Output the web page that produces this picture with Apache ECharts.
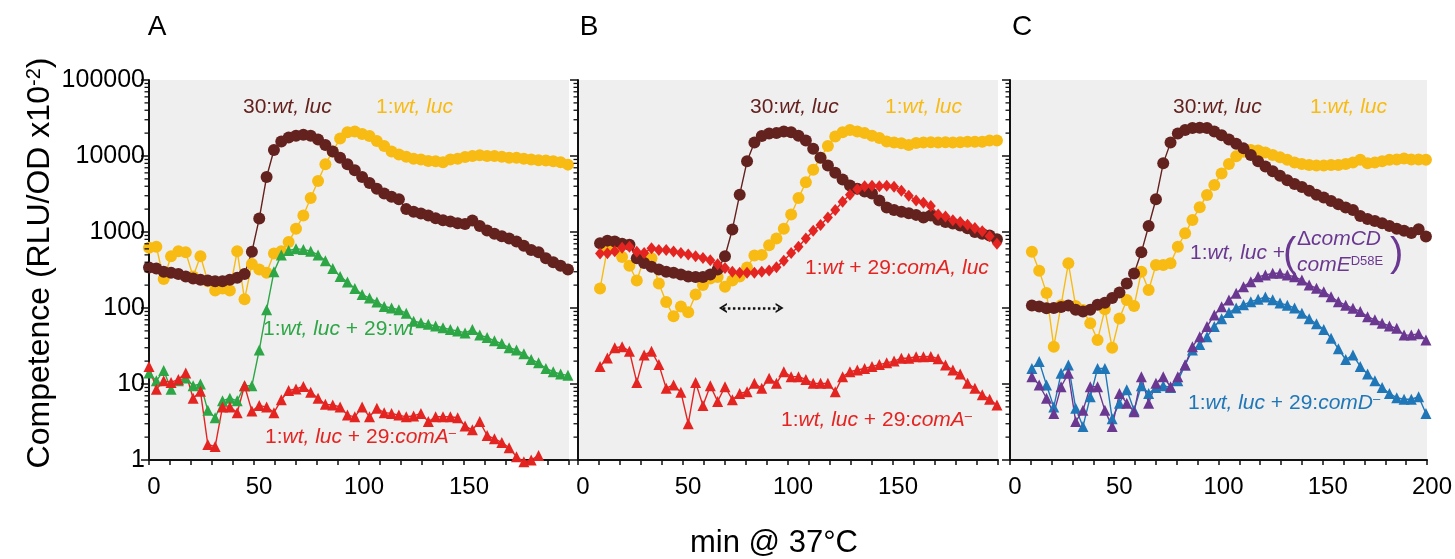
<!DOCTYPE html>
<html>
<head>
<meta charset="utf-8">
<script src="https://cdn.jsdelivr.net/npm/echarts@6.0.0/dist/echarts.min.js"></script>
<style>
html,body{margin:0;padding:0;background:#ffffff;}
#chart{width:1455px;height:559px;}
</style>
</head>
<body>
<div id="chart"></div>
<script>
// ---------------- data ----------------
const timesA = [0,3.5,7,10.5,14,17.5,21,24.5,28,31.5,35,38.5,42,45.5,49,52.5,56,59.5,63,66.5,70,73.5,77,80.5,84,87.5,91,94.5,98,101.5,105,108.5,112,115.5,119,122.5,126,129.5,133,136.5,140,143.5,147,150.5,154,157.5,161,164.5,168,171.5,175,178.5,182,185.5,189,192.5,196,199.5];
const timesBC = [10.5,14,17.5,21,24.5,28,31.5,35,38.5,42,45.5,49,52.5,56,59.5,63,66.5,70,73.5,77,80.5,84,87.5,91,94.5,98,101.5,105,108.5,112,115.5,119,122.5,126,129.5,133,136.5,140,143.5,147,150.5,154,157.5,161,164.5,168,171.5,175,178.5,182,185.5,189,192.5,196,199.5];

// Panel A
const aBrown  = [340,330,300,290,280,260,245,235,230,225,225,235,250,280,550,1500,5300,12000,15500,17500,18500,19000,18500,16500,14000,11500,9500,7800,6500,5300,4400,3700,3200,2900,2700,2000,1850,1750,1650,1520,1430,1370,1300,1270,1420,1200,1050,950,880,820,750,660,580,540,450,400,360,320];
const aYellow = [620,640,240,480,560,540,260,480,225,170,180,170,560,130,380,320,290,520,560,740,1100,1650,2800,4700,7800,11500,17000,20500,21000,19500,18300,15800,13500,11500,10500,9800,9200,9000,8600,8500,8300,9000,9200,9700,10000,10200,10000,10000,9800,9500,9500,9200,9000,8800,8700,8500,8300,7700];
const aGreen  = [14,11,15,8.5,11,12,9.5,10,4.5,3.6,6,6.5,6,9.5,9.5,28,95,300,500,570,600,590,560,500,420,330,260,220,180,150,135,120,105,100,95,85,67,64,61,58,55,52,50,47,52,44,41,37,34,30,28,25,21,19,16,14.5,13.5,13];
const aRed    = [17,8.5,11,10.5,11.5,14,6.5,8,1.6,1.5,5,5,4.2,9.5,4.4,5.2,5,4.2,6.2,8.2,8.6,9.3,7.8,6.5,5.4,5.3,5,3.9,3.7,5,3.7,4.8,4.2,4.1,3.9,3.7,3.8,4.1,3.2,3.7,3.7,3.7,3.6,2.8,2.5,3.2,2.1,1.9,1.7,1.45,1.1,0.95,1.0,1.15];

// Panel B
const bBrown   = [710,770,750,700,680,450,390,350,320,300,290,275,260,255,255,275,320,480,1080,3100,8500,15000,18300,19800,20000,21000,20500,18500,16000,12500,9500,7500,6000,4900,4100,3700,3400,3200,2600,2100,1950,1850,1760,1680,1550,1650,1450,1350,1290,1220,1120,1000,950,900,800];
const bYellow  = [180,610,600,470,360,230,450,450,210,120,78,105,88,150,200,245,255,190,230,260,340,490,500,670,820,1100,1700,2800,4500,6600,9500,13500,18000,20500,22000,21000,20000,18500,17200,15500,15000,14700,14000,14800,15000,15200,15000,15200,15000,15200,15400,15400,15400,16000,16000];
const bComALuc = [520,525,560,620,640,550,530,610,580,580,555,530,505,480,455,425,375,335,300,290,290,290,300,312,345,420,530,640,820,1040,1240,1550,1950,2500,3100,3650,4000,4050,4000,4050,3950,3500,3000,2600,2420,2200,1700,1600,1430,1350,1250,1130,1020,880,700];
const bRed     = [17,22,30,31,27,10.5,24,27,18,8.8,9.7,7.8,3.0,10.5,5.2,9.5,5.9,9.2,6.2,7.5,7.9,10.2,8.8,11.9,10.2,14.5,12.5,12.5,11.5,10.2,10.2,10.2,7.9,12.5,14.5,15.3,16,17,18,19,20,21.8,21.8,22.8,22.8,23,21.5,17.8,15.3,13.5,10.2,8.8,7.2,6.3,5.3];
const arrowB   = [69, 96, 100]; // from-min, to-min, level

// Panel C
const cBrown  = [108,105,99,100,103,108,95,90,95,110,117,135,160,210,285,540,1200,2700,8000,15000,19800,22000,23300,23600,23300,21000,18800,16500,14500,12600,10300,8500,7300,6300,5500,4800,4270,3900,3500,3100,2850,2550,2320,2100,1950,1620,1480,1400,1300,1200,1100,1040,970,1090,870];
const cYellow = [550,310,158,31,109,388,106,94,63,38,96,30,73,127,106,300,172,368,368,388,640,960,1440,2110,3070,4160,5900,7850,9900,11400,12000,11800,11100,10300,9600,8900,8200,7850,7600,7500,7500,7600,7600,7850,8200,8900,8000,8200,8500,8900,9000,9300,9000,9000,8900];
const cPurple = [12.5,9.7,6.5,4.1,9.2,13.8,3.2,4.5,9.2,9.2,4.5,2.75,7.5,5.6,4.3,12.5,5.6,10.2,12.5,9.2,12.5,17.8,31,42,57,81,104,127,156,191,222,257,272,286,286,272,257,233,200,182,164,141,121,109,99,90,77,70,63,58,54,44,44,46,38];
const cBlue   = [16,19.7,9.7,5.0,13.8,17.8,4.8,2.75,6.8,16,16,3.5,5.6,8.4,4.5,9.5,7.5,9,9.5,9,11,17.8,28,33,42,57,72,87,100,110,121,130,140,128,116,109,100,85,72,62,52,40,29,21,24,17,13.5,11,9,7.5,6.6,6.3,6.3,6.8,4.1];

// tick labels
const yTickLabels = ['1','10','100','1000','10000','100000'];
const xTickLabels = ['0','50','100','150','200'];
const xLabelsShown = [['0','50','100','150'], ['0','50','100','150'], ['0','50','100','150','200']];

// ---------------- styling ----------------
const FONT = '"Liberation Sans", Arial, Helvetica, sans-serif';
const COL = { brown:'#64221f', yellow:'#f8bb14', green:'#2da646', red:'#e42421', purple:'#6b3891', blue:'#2077b8', grey:'#efefef', axis:'#111111' };
const gridLefts = [149, 578, 1010];

// minor tick values of the log axis (2..9 within each decade)
const minorTickValues = [];
for (let d = 0; d < 5; d++) for (let k = 2; k <= 9; k++) minorTickValues.push(k * Math.pow(10, d));

const grids = gridLefts.map(l => ({ left: l, top: 80, width: 420, height: 380, show: true, backgroundColor: COL.grey, borderWidth: 0 }));

const xAxes = [0,1,2].map(i => ({
  type: 'value', gridIndex: i, min: 0, max: 200, interval: 10,
  axisLine: { show: true, onZero: false, lineStyle: { color: COL.axis, width: 2 } },
  axisTick: { show: true, length: 5, lineStyle: { color: COL.axis, width: 1.5 } },
  splitLine: { show: false },
  axisLabel: {
    fontSize: 24, fontFamily: FONT, color: '#000', margin: 15, padding: [0, 0, 0, 10],
    formatter: v => { const s = String(Math.round(v)); return (xTickLabels.includes(s) && xLabelsShown[i].includes(s)) ? s : ''; }
  }
}));

const yAxes = [0,1,2].map(i => ({
  type: 'log', logBase: 10, gridIndex: i, min: 1, max: 100000,
  axisLine: { show: true, lineStyle: { color: COL.axis, width: 2 } },
  axisTick: { show: true, length: 8, lineStyle: { color: COL.axis, width: 1.5 } },
  splitLine: { show: false },
  axisLabel: {
    show: i === 0, fontSize: 25, fontFamily: FONT, color: '#000', margin: 4, padding: [0, 0, 10, 0],
    formatter: v => yTickLabels[Math.round(Math.log10(v))] || ''
  }
}));

function mk(grid, times, vals, color, symbol, size, extra) {
  return Object.assign({
    type: 'line', xAxisIndex: grid, yAxisIndex: grid,
    data: vals.map((v, k) => [times[k], v]),
    symbol: symbol, symbolSize: size,
    itemStyle: { color: color },
    lineStyle: { color: color, width: 1.4 },
    animation: false, emphasis: { disabled: true }, silent: true
  }, extra || {});
}

// minor ticks of the log axes, placed through the axis scale
function minorTicks(grid) {
  return {
    type: 'custom', xAxisIndex: grid, yAxisIndex: grid, silent: true, clip: false, animation: false, z: 5,
    data: minorTickValues.map(v => [0, v]),
    renderItem: (params, api) => {
      const p = api.coord([api.value(0), api.value(1)]);
      return { type: 'line', shape: { x1: p[0] - 4.5, y1: p[1], x2: p[0], y2: p[1] }, style: { stroke: COL.axis, lineWidth: 1.3 } };
    }
  };
}

const chevron = 'path://M0,12 L6,0 L12,12 L9.6,12 L6,4.8 L2.4,12 Z';

const series = [
  mk(0, timesA, aYellow, COL.yellow, 'circle', 12),
  mk(0, timesA, aBrown, COL.brown, 'circle', 12),
  mk(0, timesA, aGreen, COL.green, 'triangle', 11),
  mk(0, timesA, aRed, COL.red, 'triangle', 11, { clip: false }),
  mk(1, timesBC, bYellow, COL.yellow, 'circle', 12),
  mk(1, timesBC, bBrown, COL.brown, 'circle', 12),
  mk(1, timesBC, bComALuc, COL.red, 'diamond', [10, 12], {
    markLine: {
      silent: true, symbol: [chevron, chevron], symbolSize: [10, 8],
      label: { show: false },
      lineStyle: { type: 'dotted', color: '#111', width: 2.5 },
      data: [[{ coord: [arrowB[0], arrowB[2]] }, { coord: [arrowB[1], arrowB[2]] }]]
    }
  }),
  mk(1, timesBC, bRed, COL.red, 'triangle', 11),
  mk(2, timesBC, cYellow, COL.yellow, 'circle', 12),
  mk(2, timesBC, cBrown, COL.brown, 'circle', 12),
  mk(2, timesBC, cBlue, COL.blue, 'triangle', 11),
  mk(2, timesBC, cPurple, COL.purple, 'triangle', 11),
  minorTicks(0), minorTicks(1), minorTicks(2)
];

// ---------------- texts ----------------
function rich(color, size) {
  return {
    n: { fontSize: size, fontFamily: FONT, fill: color },
    i: { fontSize: size, fontFamily: FONT, fill: color, fontStyle: 'italic' },
    s: { fontSize: Math.round(size * 0.62), fontFamily: FONT, fill: color, verticalAlign: 'top' }
  };
}
function txt(x, y, text, color, size, opt) {
  opt = opt || {};
  return {
    type: 'text', x: x, y: y, rotation: opt.rotation || 0, silent: true, z: 100,
    style: { text: text, fill: color, fontSize: size, fontFamily: FONT,
      align: opt.align || 'left', verticalAlign: 'middle', rich: rich(color, size) }
  };
}

const graphic = [
  txt(157, 27, 'A', '#000', 28, { align: 'center' }),
  txt(589, 27, 'B', '#000', 28, { align: 'center' }),
  txt(1022, 27, 'C', '#000', 28, { align: 'center' }),
  txt(40, 263, '{n|Competence (RLU/OD x10}{s|-2}{n|)}', '#000', 32, { align: 'center', rotation: Math.PI / 2 }),
  txt(774, 543, 'min @ 37°C', '#000', 31, { align: 'center' }),
  // panel A
  txt(243, 107, '{n|30:}{i|wt, luc}', COL.brown, 21),
  txt(376, 107, '{n|1:}{i|wt, luc}', COL.yellow, 21),
  txt(263, 329, '{n|1:}{i|wt, luc}{n| + 29:}{i|wt}', COL.green, 21),
  txt(265, 437, '{n|1:}{i|wt, luc}{n| + 29:}{i|comA}{s|–}', COL.red, 21),
  // panel B
  txt(750, 107, '{n|30:}{i|wt, luc}', COL.brown, 21),
  txt(885, 107, '{n|1:}{i|wt, luc}', COL.yellow, 21),
  txt(805, 268, '{n|1:}{i|wt}{n| + 29:}{i|comA, luc}', COL.red, 21),
  txt(781, 420, '{n|1:}{i|wt, luc}{n| + 29:}{i|comA}{s|–}', COL.red, 21),
  // panel C
  txt(1173, 107, '{n|30:}{i|wt, luc}', COL.brown, 21),
  txt(1310, 107, '{n|1:}{i|wt, luc}', COL.yellow, 21),
  txt(1190, 253, '{n|1:}{i|wt, luc}{n| +}', COL.purple, 21),
  txt(1283, 255, '(', COL.purple, 40),
  txt(1297, 239, '{n|Δ}{i|comCD}', COL.purple, 21),
  txt(1297, 265, '{i|comE}{s|D58E}', COL.purple, 21),
  txt(1390, 255, ')', COL.purple, 40),
  txt(1188, 403, '{n|1:}{i|wt, luc}{n| + 29:}{i|comD}{s|–}', COL.blue, 21)
];

const chart = echarts.init(document.getElementById('chart'), null, { renderer: 'canvas' });
chart.setOption({
  animation: false,
  backgroundColor: '#ffffff',
  grid: grids,
  xAxis: xAxes,
  yAxis: yAxes,
  series: series,
  graphic: graphic
});
</script>
</body>
</html>
